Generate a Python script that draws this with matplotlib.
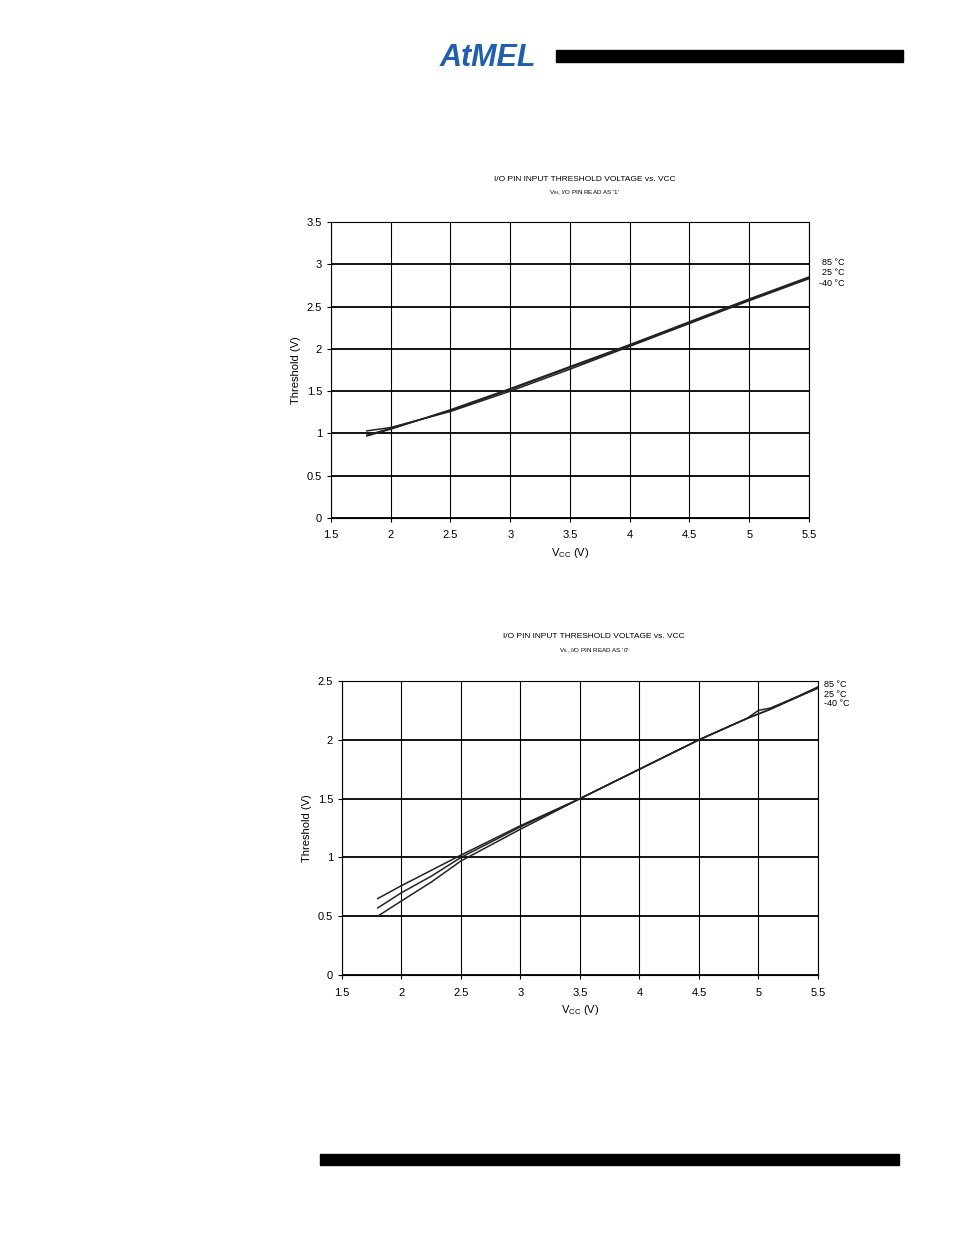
import matplotlib.pyplot as plt
from matplotlib.patches import Rectangle

plt.rcParams["font.family"] = "Liberation Sans"

W, H = 954, 1235

vcc = [1.8, 2.0, 2.5, 3.0, 3.5, 4.0, 4.5, 5.0, 5.5]

# VIH, pin read as '1'
vih_85 = [1.03, 1.07, 1.26, 1.50, 1.76, 2.03, 2.30, 2.57, 2.83]
vih_25 = [0.98, 1.06, 1.27, 1.52, 1.78, 2.04, 2.31, 2.58, 2.84]
vih_m40 = [0.97, 1.05, 1.28, 1.53, 1.79, 2.05, 2.32, 2.59, 2.85]

# VIL, pin read as '0'
vil_x = [1.8, 2.0, 2.25, 2.5, 3.0, 3.5, 4.0, 4.5, 4.9, 5.0, 5.1, 5.5]
vil_85 = [0.65, 0.76, 0.89, 1.02, 1.27, 1.50, 1.75, 2.00, 2.18, 2.25, 2.27, 2.44]
vil_25 = [0.57, 0.70, 0.84, 1.00, 1.26, 1.50, 1.75, 2.00, 2.18, 2.22, 2.26, 2.44]
vil_m40 = [0.50, 0.63, 0.79, 0.97, 1.24, 1.50, 1.75, 2.00, 2.18, 2.22, 2.26, 2.45]

temps = ["85 °C", "25 °C", "-40 °C"]

fig = plt.figure(figsize=(W / 100, H / 100), dpi=100)


def ax_at(x0, y0, x1, y1):
    return fig.add_axes([x0 / W, 1 - y1 / H, (x1 - x0) / W, (y1 - y0) / H])


def style(ax, ymax, ystep, title, sub, sub_sym, ty, sy):
    ax.set_xlim(1.5, 5.5)
    ax.set_ylim(0, ymax)
    ax.set_xticks([1.5, 2, 2.5, 3, 3.5, 4, 4.5, 5, 5.5])
    ax.set_xticklabels(["1.5", "2", "2.5", "3", "3.5", "4", "4.5", "5", "5.5"])
    yt = [i * ystep for i in range(int(round(ymax / ystep)) + 1)]
    ax.set_yticks(yt)
    ax.set_yticklabels([f"{v:g}" for v in yt])
    ax.tick_params(labelsize=8, length=3, width=0.8)
    ax.tick_params(axis="x", pad=6)
    ax.grid(True, axis="x", color="black", linewidth=0.8)
    ax.grid(True, axis="y", color="black", linewidth=1.3)
    for s in ax.spines.values():
        s.set_linewidth(0.8)
    ax.set_xlabel(r"V$_{\mathregular{CC}}$ (V)", fontsize=8, labelpad=4)
    ax.set_ylabel("Threshold (V)", fontsize=8)
    ax.text(0.53, ty, title, transform=ax.transAxes, ha="center", va="center", fontsize=6)
    ax.text(0.53, sy, sub_sym + sub, transform=ax.transAxes, ha="center", va="center",
            fontsize=4.5)


ax1 = ax_at(331, 222, 809, 518)
for y in (vih_85, vih_25, vih_m40):
    ax1.plot(vcc, y, color="#222222", linewidth=1.1)
style(ax1, 3.5, 0.5, "I/O PIN INPUT THRESHOLD VOLTAGE vs. VCC", ", I/O PIN READ AS '1'",
      r"V$_{\mathregular{IH}}$", 1.142, 1.10)
for i, t in enumerate(temps):
    ax1.text(1.075, 0.855 - i * 0.035, t, transform=ax1.transAxes, fontsize=6.5,
             ha="right")

ax2 = ax_at(342, 681, 818, 975)
for y in (vil_85, vil_25, vil_m40):
    ax2.plot(vil_x, y, color="#222222", linewidth=1.1)
style(ax2, 2.5, 0.5, "I/O PIN INPUT THRESHOLD VOLTAGE vs. VCC", ", I/O PIN READ AS '0'",
      r"V$_{\mathregular{IL}}$", 1.15, 1.105)
for i, t in enumerate(temps):
    ax2.text(1.013, 0.98 - i * 0.033, t, transform=ax2.transAxes, fontsize=6.5, ha="left")

# page decorations
fig.patches.append(Rectangle((556 / W, 1 - 62 / H), 347 / W, 12 / H,
                             transform=fig.transFigure, color="black"))
fig.patches.append(Rectangle((320 / W, 1 - 1165 / H), 579 / W, 11 / H,
                             transform=fig.transFigure, color="black"))
fig.text(488 / W, 1 - 58 / H, "AtMEL", color="#1f5fae", fontsize=22, fontweight="bold",
         style="italic", ha="center", va="center")

fig.savefig("out.png", dpi=100)
